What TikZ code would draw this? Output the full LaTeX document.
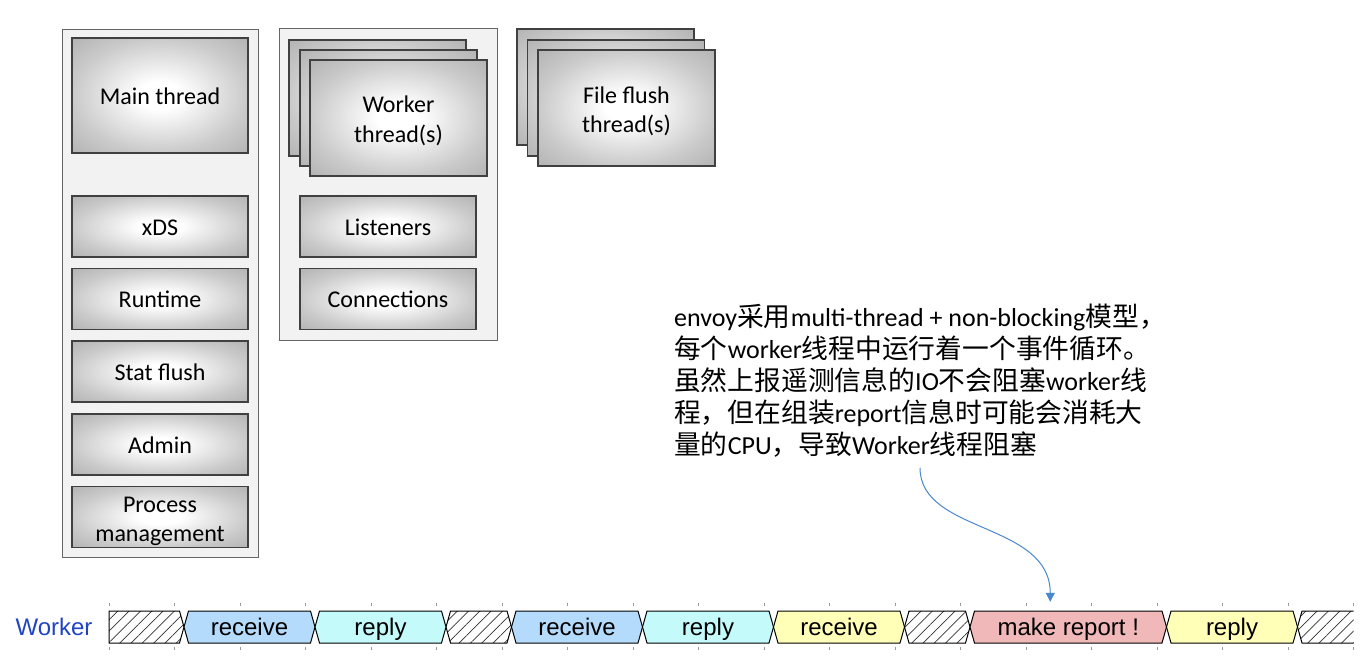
\documentclass[tikz,border=0pt]{standalone}
\usepackage{fontspec}
\setmainfont{Carlito}
\newfontfamily\cjk[Scale=1.03]{Noto Sans CJK SC}
\newfontfamily\helv{Liberation Sans}
\usepackage{xcolor}
\usetikzlibrary{
    arrows.meta,
    patterns.meta,
    positioning
}
\definecolor{panelgray}{RGB}{242,242,242}
\definecolor{recvblue}{RGB}{180,218,252}
\definecolor{replycyan}{RGB}{196,250,250}
\definecolor{recvyellow}{RGB}{255,255,184}
\definecolor{reportpink}{RGB}{240,184,184}
\definecolor{arrowblue}{RGB}{74,136,206}
\definecolor{workerblue}{RGB}{32,68,196}
\pgfdeclareradialshading{boxglow}{\pgfpoint{0bp}{0bp}}{color(0bp)=(white); color(6bp)=(white); color(25bp)=(black!21); color(36bp)=(black!30); color(50bp)=(black!30)}
\tikzset{
    sz/.style 2 args={minimum width=#1pt, minimum height=#2pt},
    panel/.style={draw=black!60, line width=1pt, fill=panelgray, inner sep=0pt},
    tbox/.style={draw=black!75, line width=1.2pt, shade, shading=boxglow, align=center, inner sep=0pt,
        font=\fontsize{24}{29}\selectfont, text height=18pt, text depth=1pt},
    twoline/.style={text height=53pt, text depth=5pt},
    seg/.style={draw=black, line width=1pt, line join=miter},
    hatch/.style={seg, pattern={Lines[angle=45, distance=8pt, line width=0.7pt]}, pattern color=black!80},
    seglbl/.style={font=\helv\fontsize{24}{29}\selectfont, minimum height=32pt, inner sep=0pt,
        text height=17pt, text depth=1pt},
    note/.style={align=left, inner sep=0pt, font=\fontsize{26}{32}\selectfont},
    tick/.style={draw=black!40, line width=0.8pt}
}

\begin{document}
\begin{tikzpicture}[x=1pt, y=-1pt]
                                \fill[white] (0,0) rectangle (1363,661);
                                \useasboundingbox (0,0) rectangle (1363,661);
                                \node[panel, sz={196}{527}] (mainpanel) at (160,293.5) {};
                                \node[tbox, sz={176}{115}] (main) at (160,95.5) {Main thread};
                                \node[tbox, sz={176}{61}] (xds) at (160,226.5) {xDS};
                                \node[tbox, sz={176}{61}] (runtime) at (160,299) {Runtime};
                                \node[tbox, sz={176}{61}] (stat) at (160,371.5) {Stat flush};
                                \node[tbox, sz={176}{61}] (admin) at (160,444.5) {Admin};
                                \node[tbox, twoline, sz={176}{61}] (proc) at (160,517) {Process\\management};
                                \node[panel, sz={218}{311}] (workpanel) at (388,184.5) {};
                                \node[tbox, sz={177}{116}] (wb1) at (377.5,98) {};
                                \node[tbox, sz={177}{116}] (wb2) at (388.5,108) {};
                                \node[tbox, twoline, sz={177}{116}] (worker) at (398.5,118) {Worker\\thread(s)};
                                \node[tbox, sz={176}{61}] (listeners) at (388,226.5) {Listeners};
                                \node[tbox, sz={176}{61}] (conns) at (388,299) {Connections};
                                \node[tbox, sz={177}{116}] (ff1) at (605.5,87) {};
                                \node[tbox, sz={177}{116}] (ff2) at (616,98) {};
                                \node[tbox, twoline, sz={177}{116}] (fflush) at (626.5,108) {File flush\\thread(s)};
                                \node[note, anchor=north west] (note) at (674,304)
                                    {envoy{\cjk 采用}multi-thread + non-blocking{\cjk 模型，}\\
                                     {\cjk 每个}worker{\cjk 线程中运行着一个事件循环。}\\
                                     {\cjk 虽然上报遥测信息的}IO{\cjk 不会阻塞}worker{\cjk 线}\\
                                     {\cjk 程，但在组装}report{\cjk 信息时可能会消耗大}\\
                                     {\cjk 量的}CPU{\cjk ，导致}Worker{\cjk 线程阻塞}};
                                \node[font=\helv\fontsize{24}{29}\selectfont, text=workerblue] (wlabel) at (54,627) {Worker};
                                \foreach \k in {0,...,19} {
                                    \draw[tick] ({109+65.5*\k},602.5) -- ({109+65.5*\k},605.5);
                                    \draw[tick] ({109+65.5*\k},647) -- ({109+65.5*\k},650);
                                }
                                \draw[hatch] (109,611) -- (179.5,611) -- (184,627) -- (179.5,643) -- (109,643) -- cycle;
                                \foreach \a/\b in {446/511.5, 904.5/970}
                                    \draw[hatch] (\a+4.5,611) -- (\b-4.5,611) -- (\b,627) -- (\b-4.5,643) -- (\a+4.5,643) -- (\a,627) -- cycle;
                                \fill[pattern={Lines[angle=45, distance=8pt, line width=0.7pt]}, pattern color=black!80]
                                    (1353.5,611) -- (1302,611) -- (1297.5,627) -- (1302,643) -- (1353.5,643) -- cycle;
                                \draw[seg] (1353.5,611) -- (1302,611) -- (1297.5,627) -- (1302,643) -- (1353.5,643);
                                \foreach \a/\b/\c/\t/\n in {184/315/recvblue/receive/s1, 315/446/replycyan/reply/s2,
                                        511.5/642.5/recvblue/receive/s3, 642.5/773.5/replycyan/reply/s4,
                                        773.5/904.5/recvyellow/receive/s5, 970/1166.5/reportpink/make report !/s6,
                                        1166.5/1297.5/recvyellow/reply/s7} {
                                    \draw[seg, fill=\c] (\a+4.5,611) -- (\b-4.5,611) -- (\b,627) -- (\b-4.5,643) -- (\a+4.5,643) -- (\a,627) -- cycle;
                                    \node[seglbl] (\n) at ({(\a+\b)/2},627) {\t};
                                }
                                \draw[arrowblue, line width=1pt, -{Triangle[length=9pt, width=9pt]}]
                                    ([yshift=-10pt]note.south) .. controls +(0,66) and +(0,-80) .. ([xshift=-18pt, yshift=9pt]s6.north);
                            \end{tikzpicture}
\end{document}
